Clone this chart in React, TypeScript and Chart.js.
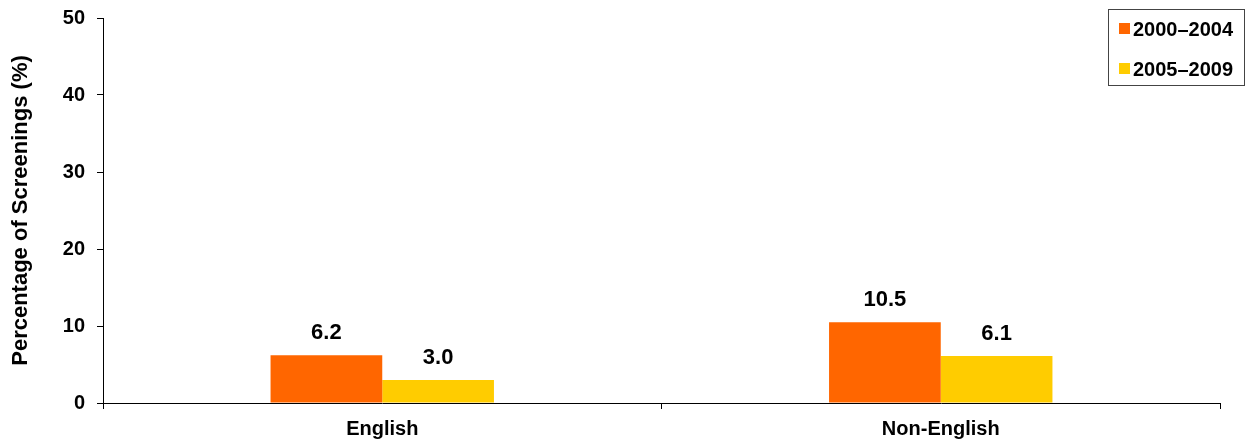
import React, { useEffect, useRef } from "react";
import { Chart, registerables } from "chart.js";

Chart.register(...registerables);

const categories = ["English", "Non-English"];
const seriesNames = ["2000–2004", "2005–2009"];
const values2000 = [6.2, 10.5];
const values2005 = [3.0, 6.1];
const yTicks = [0, 10, 20, 30, 40, 50];
const colors = ["#FF6600", "#FFCC00"];
const yTitle = "Percentage of Screenings (%)";

const FONT = "'Liberation Sans', Arial, Helvetica, sans-serif";

const dataLabelPlugin = {
  id: "dataLabels",
  afterDatasetsDraw(chart: any) {
    const ctx = chart.ctx;
    ctx.save();
    ctx.font = `bold 22px ${FONT}`;
    ctx.fillStyle = "#000";
    ctx.textAlign = "center";
    ctx.textBaseline = "alphabetic";
    chart.data.datasets.forEach((ds: any, di: number) => {
      const meta = chart.getDatasetMeta(di);
      meta.data.forEach((bar: any, i: number) => {
        const v = ds.data[i];
        ctx.fillText(Number(v).toFixed(1), bar.x, bar.y - 16);
      });
    });
    ctx.restore();
  },
};

const legendPlugin = {
  id: "boxLegend",
  afterDraw(chart: any) {
    const ctx = chart.ctx;
    ctx.save();
    const bx = 1108.5, by = 9.5, bw = 136, bh = 76;
    ctx.fillStyle = "#fff";
    ctx.fillRect(bx, by, bw, bh);
    ctx.strokeStyle = "#444";
    ctx.lineWidth = 1;
    ctx.strokeRect(bx, by, bw, bh);
    ctx.font = `bold 20px ${FONT}`;
    ctx.textAlign = "left";
    ctx.textBaseline = "alphabetic";
    const rows = [23, 63];
    chart.data.datasets.forEach((ds: any, i: number) => {
      const y = rows[i];
      ctx.fillStyle = ds.backgroundColor;
      ctx.fillRect(1119, y, 11, 11);
      ctx.fillStyle = "#000";
      ctx.fillText(ds.label, 1133, y + 13);
    });
    ctx.restore();
  },
};

export default function App() {
  const ref = useRef<HTMLCanvasElement | null>(null);
  useEffect(() => {
    if (!ref.current) return;
    const chart = new Chart(ref.current, {
      type: "bar",
      data: {
        labels: categories,
        datasets: [
          { label: seriesNames[0], data: values2000, backgroundColor: colors[0] },
          { label: seriesNames[1], data: values2005, backgroundColor: colors[1] },
        ],
      },
      options: {
        animation: false,
        responsive: false,
        maintainAspectRatio: false,
        layout: { padding: { top: 18, right: 26, left: 0, bottom: 0 } },
        datasets: { bar: { categoryPercentage: 0.4, barPercentage: 1.0 } },
        plugins: {
          legend: { display: false },
          tooltip: { enabled: false },
        },
        scales: {
          x: {
            offset: true,
            grid: { offset: true, drawOnChartArea: false, drawTicks: true, tickLength: 6, color: "#000" },
            border: { display: true, color: "#000", width: 1 },
            ticks: { color: "#000", font: { family: FONT, size: 20, weight: "bold" }, padding: 8, maxRotation: 0 },
            afterFit: (s: any) => { s.height = 39; },
          },
          y: {
            min: 0,
            max: 50,
            afterBuildTicks: (s: any) => { s.ticks = yTicks.map((v) => ({ value: v })); },
            grid: { drawOnChartArea: false, drawTicks: true, tickLength: 6, color: "#000" },
            border: { display: true, color: "#000", width: 1 },
            ticks: { color: "#000", font: { family: FONT, size: 20, weight: "bold" }, padding: 12 },
            title: {
              display: true,
              text: yTitle,
              color: "#000",
              font: { family: FONT, size: 22, weight: "bold" },
              padding: { top: 8, bottom: 0 },
            },
            afterFit: (s: any) => { s.width = 103; s.paddingTop = 0; s.paddingBottom = 0; },
          },
        },
      },
      plugins: [dataLabelPlugin, legendPlugin],
    });
    return () => chart.destroy();
  }, []);
  return (
    <div style={{ position: "fixed", left: 0, top: 0, width: 1246, height: 442, background: "#fff" }}>
      <canvas ref={ref} width={1246} height={442} style={{ width: 1246, height: 442 }} />
    </div>
  );
}
